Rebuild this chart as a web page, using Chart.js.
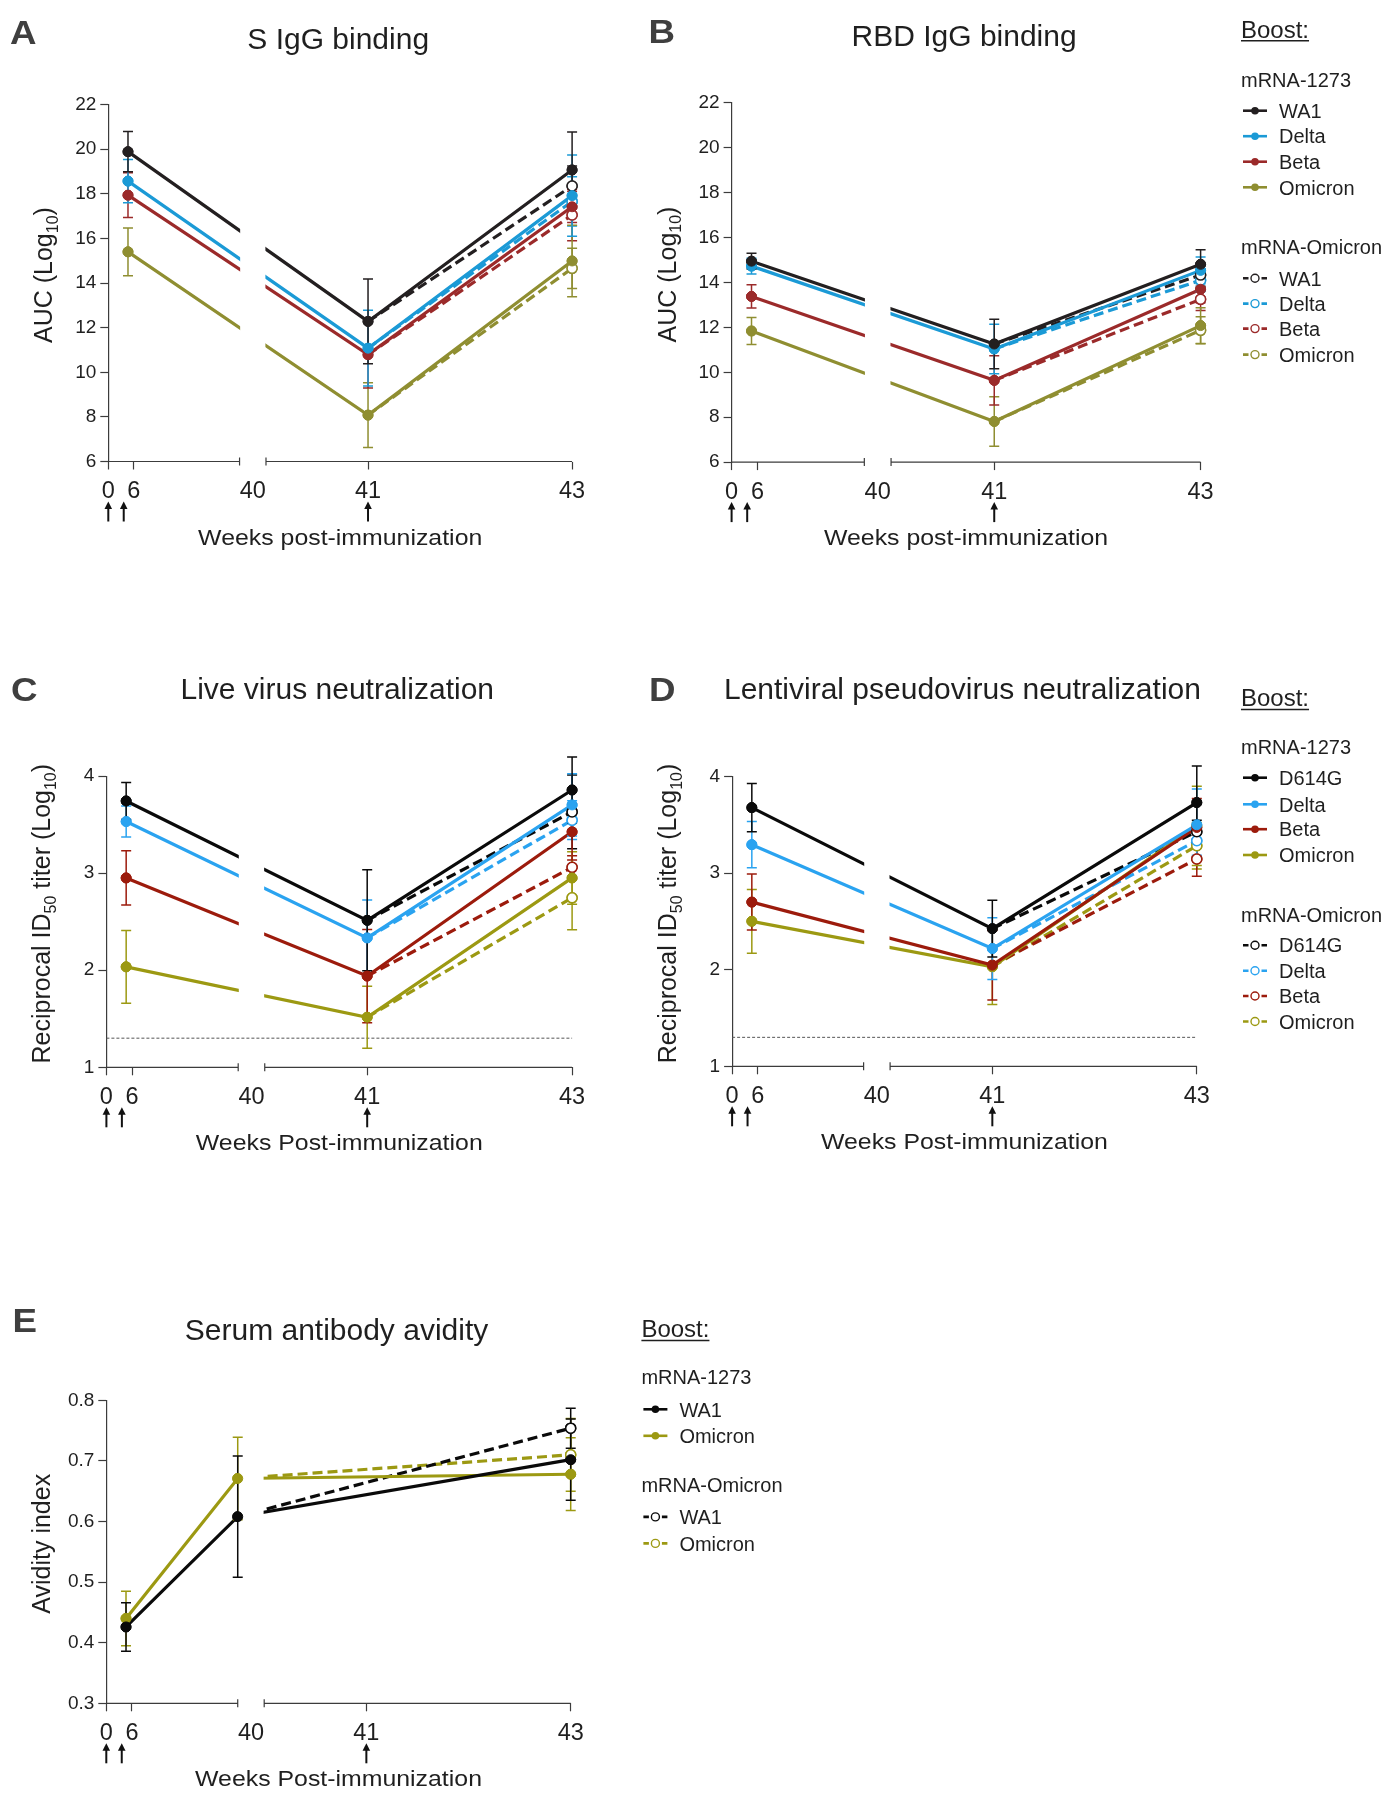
<!DOCTYPE html>
<html lang="en">
<head>
<meta charset="utf-8">
<title>mRNA-Omicron boost</title>
<script src="https://cdn.jsdelivr.net/npm/chart.js@4.4.1/dist/chart.umd.min.js"></script>
<style>
  html, body { margin: 0; background: #ffffff; }
  #figure { position: relative; width: 1388px; height: 1796px; overflow: hidden; }
  #figure canvas { position: absolute; }
</style>
</head>
<body>
<div id="figure">
  <canvas id="panelA"></canvas>
  <canvas id="panelB"></canvas>
  <canvas id="panelC"></canvas>
  <canvas id="panelD"></canvas>
  <canvas id="panelE"></canvas>
</div>
<script>
// === Data ===
const WEEKS_AD = [6, 41, 43];
const WEEKS_E = [6, 40, 43];
const X_TICK_LABELS = ['0', '6', '40', '41', '43'];
// where the figure puts each tick label, in weeks (the "6" sits a little right of the week-6 points)
const X_TICK_AT = [0, 7.8, 40, 41, 43];
const ARROW_WEEKS = [0, 4.7, 41];

const VARIANTS = ['WA1', 'Delta', 'Beta', 'Omicron'];
const VARIANTS_D = ['D614G', 'Delta', 'Beta', 'Omicron'];
const VARIANTS_E = ['WA1', 'Omicron'];

// A. S IgG binding, AUC (log10); one row per variant, one column per week in WEEKS_AD
const sIgG1273 = [[19.89, 12.28, 19.07], [18.57, 11.08, 17.92], [17.94, 10.79, 17.42], [15.40, 8.08, 14.99]];
const sIgG1273Err = [[0.9, 1.9, 1.7], [0.97, 1.7, 1.82], [1.0, 1.5, 0.7], [1.07, 1.45, 1.6]];
const sIgGOmicron43 = [18.35, 17.66, 17.05, 14.66];
const sIgGOmicron43Err = [0.9, 1.1, 1.15, 0.9];

// B. RBD IgG binding, AUC (log10)
const rbdIgG1273 = [[14.95, 11.26, 14.81], [14.73, 11.04, 14.54], [13.38, 9.64, 13.70], [11.84, 7.81, 12.08]];
const rbdIgG1273Err = [[0.35, 1.1, 0.65], [0.35, 1.1, 0.6], [0.52, 1.1, 0.6], [0.6, 1.1, 0.8]];
const rbdIgGOmicron43 = [14.33, 14.10, 13.25, 11.87];
const rbdIgGOmicron43Err = [0.5, 0.5, 0.5, 0.6];

// C. Live virus neutralization, reciprocal ID50 titer (log10)
const liveNeut1273 = [[3.744, 2.514, 3.857], [3.532, 2.333, 3.703], [2.951, 1.94, 3.426], [2.035, 1.516, 2.951]];
const liveNeut1273Err = [[0.19, 0.52, 0.34], [0.16, 0.39, 0.32], [0.28, 0.48, 0.29], [0.375, 0.32, 0.27]];
const liveNeutOmicron43 = [3.631, 3.546, 3.06, 2.746];
const liveNeutOmicron43Err = [0.38, 0.2, 0.12, 0.33];

// D. Lentiviral pseudovirus neutralization, reciprocal ID50 titer (log10)
const pseudoNeut1273 = [[3.68, 2.426, 3.732], [3.296, 2.22, 3.502], [2.701, 2.048, 3.474], [2.502, 2.031, 3.49]];
const pseudoNeut1273Err = [[0.25, 0.295, 0.38], [0.24, 0.32, 0.37], [0.29, 0.36, 0.3], [0.33, 0.39, 0.41]];
const pseudoNeutOmicron43 = [3.43, 3.337, 3.148, 3.285];
const pseudoNeutOmicron43Err = [0.12, 0.15, 0.18, 0.24];

// E. Serum antibody avidity index; weeks in WEEKS_E
const avidity1273 = [[0.426, 0.608, 0.702], [0.44, 0.671, 0.678]];
const avidity1273Err = [[0.04, 0.1, 0.067], [0.045, 0.068, 0.06]];
const avidityOmicron43 = [0.754, 0.71];
const avidityOmicron43Err = [0.033, 0.06];

const NEUT_LIMIT = 1.3; // limit of detection, dotted line in C and D

// === Look ===
const FONT = "'Liberation Sans', Arial, Helvetica, sans-serif";
const AXIS_COLOR = '#3c3c3c';
const TEXT_COLOR = '#1f1f1f';
const PALETTE_AB = ['#231f20', '#1b9ad6', '#9b2a2a', '#8f8e31'];
const PALETTE_CDE = ['#0a0a0a', '#2aa3f0', '#9c1b0c', '#9c9912'];
const CAP = 5;
const LINE_W = 3.2;
const DOT_R = 5;
const Y_AXIS_W = 70;
const X_AXIS_H = 40;

// Broken x axis: weeks 0-40 on the first 28.3 % of the axis, weeks 40-43 on the last 66 %
const SEG1_END = 28.3;
const SEG2_START = 34.0;
const GAP_MID = (SEG1_END + SEG2_START) / 2;

function weekToX(w) {
  return w <= 40 ? (w / 40) * SEG1_END : SEG2_START + ((w - 40) / 3) * (100 - SEG2_START);
}

function seriesSets(weeks, mean, err, mean43, err43, colors) {
  const solid = mean.map((row, i) => ({
    data: weeks.map((w, j) => ({ x: weekToX(w), y: row[j] })),
    errors: err[i],
    borderColor: colors[i],
    backgroundColor: colors[i],
    borderWidth: LINE_W,
    pointRadius: DOT_R,
    pointBackgroundColor: colors[i],
    pointBorderColor: colors[i],
    pointBorderWidth: 1,
    clip: false,
  }));
  const dashed = mean43.map((v, i) => ({
    data: [{ x: weekToX(weeks[1]), y: mean[i][1] }, { x: weekToX(weeks[2]), y: v }],
    errors: [null, err43[i]],
    borderColor: colors[i],
    backgroundColor: colors[i],
    borderWidth: LINE_W,
    borderDash: [10, 5],
    pointRadius: [0, DOT_R],
    pointBackgroundColor: '#ffffff',
    pointBorderColor: colors[i],
    pointBorderWidth: 1.5,
    clip: false,
  }));
  return solid.concat(dashed);
}

const AUC_TITLE = [['AUC (Log'], ['10', true], [')']];
const ID50_TITLE = [['Reciprocal ID'], ['50', true], [' titer (Log'], ['10', true], [')']];

// positions are page coordinates: box = canvas [left, top, width, height], area = [left, right, top, bottom]
const PANELS = [
  {
    id: 'panelA', box: [0, 0, 640, 600], area: [108.3, 572.1, 104.6, 461.5],
    letter: ['A', 10, 43.5], title: ['S IgG binding', 49],
    yTitle: AUC_TITLE, xTitle: 'Weeks post-immunization',
    y: { min: 6, max: 22, step: 2 },
    datasets: seriesSets(WEEKS_AD, sIgG1273, sIgG1273Err, sIgGOmicron43, sIgGOmicron43Err, PALETTE_AB),
  },
  {
    id: 'panelB', box: [640, 0, 748, 600], area: [731.6, 1200.6, 102.9, 462.1],
    letter: ['B', 648.5, 43], title: ['RBD IgG binding', 45.5],
    yTitle: AUC_TITLE, xTitle: 'Weeks post-immunization',
    y: { min: 6, max: 22, step: 2 },
    datasets: seriesSets(WEEKS_AD, rbdIgG1273, rbdIgG1273Err, rbdIgGOmicron43, rbdIgGOmicron43Err, PALETTE_AB),
    legend: {
      x: 1241, boostY: 37.5, head1Y: 86.5, head2Y: 254,
      items1: [110.7, 136.2, 161.7, 187.3], items2: [278.3, 303.6, 328.6, 354.6],
      names: VARIANTS, colors: PALETTE_AB,
    },
  },
  {
    id: 'panelC', box: [0, 640, 640, 560], area: [106.4, 572.1, 776.1, 1067.3],
    letter: ['C', 11, 700.5], title: ['Live virus neutralization', 699],
    yTitle: ID50_TITLE, xTitle: 'Weeks Post-immunization',
    y: { min: 1, max: 4, step: 1 }, limit: NEUT_LIMIT,
    datasets: seriesSets(WEEKS_AD, liveNeut1273, liveNeut1273Err, liveNeutOmicron43, liveNeutOmicron43Err, PALETTE_CDE),
  },
  {
    id: 'panelD', box: [640, 640, 748, 560], area: [732.1, 1196.8, 776.7, 1066.3],
    letter: ['D', 649, 701], title: ['Lentiviral pseudovirus neutralization', 699],
    yTitle: ID50_TITLE, xTitle: 'Weeks Post-immunization',
    y: { min: 1, max: 4, step: 1 }, limit: NEUT_LIMIT,
    datasets: seriesSets(WEEKS_AD, pseudoNeut1273, pseudoNeut1273Err, pseudoNeutOmicron43, pseudoNeutOmicron43Err, PALETTE_CDE),
    legend: {
      x: 1241, boostY: 706.4, head1Y: 754, head2Y: 921.5,
      items1: [777.7, 804.3, 829.2, 855], items2: [945.2, 970.8, 996, 1021.5],
      names: VARIANTS_D, colors: PALETTE_CDE,
    },
  },
  {
    id: 'panelE', box: [0, 1290, 820, 506], area: [106.3, 570.7, 1400.3, 1703.3],
    letter: ['E', 12.5, 1332], title: ['Serum antibody avidity', 1340],
    yTitle: [['Avidity index']], xTitle: 'Weeks Post-immunization',
    y: { min: 0.3, max: 0.8, step: 0.1, decimals: 1 },
    datasets: seriesSets(WEEKS_E, avidity1273, avidity1273Err, avidityOmicron43, avidityOmicron43Err,
      [PALETTE_CDE[0], PALETTE_CDE[3]]),
    legend: {
      x: 641.4, boostY: 1337.4, head1Y: 1384, head2Y: 1491.5,
      items1: [1409.3, 1435.8], items2: [1516.9, 1543.4],
      names: VARIANTS_E, colors: [PALETTE_CDE[0], PALETTE_CDE[3]],
    },
  },
];

const PANEL_BY_CANVAS = {};
PANELS.forEach(p => { PANEL_BY_CANVAS[p.id] = p; });

// === Drawing helpers ===
function drawText(ctx, str, x, y, size, align = 'left', stretch = 1, weight = 'normal', color = TEXT_COLOR) {
  ctx.save();
  ctx.font = `${weight} ${size}px ${FONT}`;
  ctx.fillStyle = color;
  ctx.textAlign = 'left';
  ctx.textBaseline = 'alphabetic';
  const w = ctx.measureText(str).width * stretch;
  const x0 = align === 'center' ? x - w / 2 : align === 'right' ? x - w : x;
  ctx.translate(x0, y);
  ctx.scale(stretch, 1);
  ctx.fillText(str, 0, 0);
  ctx.restore();
  return w;
}

function drawRotatedTitle(ctx, parts, baseX, centerY, size) {
  const subSize = size * 0.64;
  ctx.save();
  ctx.fillStyle = TEXT_COLOR;
  ctx.textBaseline = 'alphabetic';
  let total = 0;
  parts.forEach(([t, sub]) => {
    ctx.font = `${sub ? subSize : size}px ${FONT}`;
    total += ctx.measureText(t).width;
  });
  ctx.translate(baseX, centerY);
  ctx.rotate(-Math.PI / 2);
  let x = -total / 2;
  parts.forEach(([t, sub]) => {
    ctx.font = `${sub ? subSize : size}px ${FONT}`;
    ctx.fillText(t, x, sub ? size * 0.22 : 0);
    x += ctx.measureText(t).width;
  });
  ctx.restore();
}

function drawLegend(ctx, lg, ox, oy) {
  const x = lg.x - ox;
  const w = drawText(ctx, 'Boost:', x, lg.boostY - oy, 24);
  ctx.save();
  ctx.strokeStyle = TEXT_COLOR;
  ctx.lineWidth = 1.5;
  ctx.beginPath();
  ctx.moveTo(x, lg.boostY - oy + 3.2);
  ctx.lineTo(x + w, lg.boostY - oy + 3.2);
  ctx.stroke();
  ctx.restore();

  drawText(ctx, 'mRNA-1273', x, lg.head1Y - oy, 20);
  drawText(ctx, 'mRNA-Omicron', x, lg.head2Y - oy, 20);

  lg.names.forEach((name, i) => {
    const c = lg.colors[i];
    let y = lg.items1[i] - oy;
    ctx.save();
    ctx.strokeStyle = c;
    ctx.fillStyle = c;
    ctx.lineWidth = 2.6;
    ctx.beginPath();
    ctx.moveTo(x + 2, y);
    ctx.lineTo(x + 26, y);
    ctx.stroke();
    ctx.beginPath();
    ctx.arc(x + 14, y, 3.8, 0, Math.PI * 2);
    ctx.fill();
    ctx.restore();
    drawText(ctx, name, x + 38, y + 7.2, 20);

    y = lg.items2[i] - oy;
    ctx.save();
    ctx.strokeStyle = c;
    ctx.lineWidth = 2.6;
    ctx.beginPath();
    ctx.moveTo(x + 2, y);
    ctx.lineTo(x + 7.5, y);
    ctx.moveTo(x + 20.5, y);
    ctx.lineTo(x + 26, y);
    ctx.stroke();
    ctx.lineWidth = 1.4;
    ctx.fillStyle = '#ffffff';
    ctx.beginPath();
    ctx.arc(x + 14, y, 4, 0, Math.PI * 2);
    ctx.fill();
    ctx.stroke();
    ctx.restore();
    drawText(ctx, name, x + 38, y + 7.2, 20);
  });
}

const figurePlugin = {
  id: 'figure',
  afterDraw(chart) {
    const p = PANEL_BY_CANVAS[chart.canvas.id];
    const ctx = chart.ctx;
    const area = chart.chartArea;
    const xs = chart.scales.x;
    const ys = chart.scales.y;
    const ox = p.box[0];
    const oy = p.box[1];
    const gx1 = xs.getPixelForValue(SEG1_END);
    const gx2 = xs.getPixelForValue(SEG2_START);
    const axisY = area.bottom;
    const n = chart.data.datasets.length;

    // blank the break of the x axis
    ctx.save();
    ctx.fillStyle = '#ffffff';
    ctx.fillRect(gx1 + 0.6, area.top - 5, gx2 - gx1 - 1.2, axisY - area.top + 6);
    ctx.restore();

    // the two pieces of the x axis
    ctx.save();
    ctx.strokeStyle = AXIS_COLOR;
    ctx.lineWidth = 1.2;
    ctx.beginPath();
    ctx.moveTo(area.left, axisY);
    ctx.lineTo(gx1, axisY);
    ctx.moveTo(gx2, axisY);
    ctx.lineTo(area.right, axisY);
    ctx.moveTo(gx1, axisY - 4);
    ctx.lineTo(gx1, axisY + 4);
    ctx.moveTo(gx2, axisY - 4);
    ctx.lineTo(gx2, axisY + 4);
    ctx.stroke();
    ctx.restore();

    if (p.limit != null) {
      const ly = ys.getPixelForValue(p.limit);
      ctx.save();
      ctx.strokeStyle = '#555555';
      ctx.lineWidth = 1;
      ctx.setLineDash([3, 2]);
      ctx.beginPath();
      ctx.moveTo(area.left, ly);
      ctx.lineTo(area.right, ly);
      ctx.stroke();
      ctx.restore();
    }

    // error bars
    for (let i = n - 1; i >= 0; i--) {
      const ds = chart.data.datasets[i];
      const meta = chart.getDatasetMeta(i);
      ctx.save();
      ctx.strokeStyle = ds.borderColor;
      ctx.lineWidth = 1.5;
      ds.errors.forEach((e, j) => {
        if (e == null) return;
        const el = meta.data[j];
        const v = ds.data[j].y;
        const yt = ys.getPixelForValue(v + e);
        const yb = ys.getPixelForValue(v - e);
        ctx.beginPath();
        ctx.moveTo(el.x, yt);
        ctx.lineTo(el.x, yb);
        ctx.moveTo(el.x - CAP, yt);
        ctx.lineTo(el.x + CAP, yt);
        ctx.moveTo(el.x - CAP, yb);
        ctx.lineTo(el.x + CAP, yb);
        ctx.stroke();
      });
      ctx.restore();
    }

    // markers back on top of the bars and the break
    const whole = { left: 0, top: 0, right: chart.width, bottom: chart.height };
    for (let i = n - 1; i >= 0; i--) {
      chart.getDatasetMeta(i).data.forEach(el => el.draw(ctx, whole));
    }

    // immunization arrows
    ctx.save();
    ctx.fillStyle = '#111111';
    ctx.strokeStyle = '#111111';
    ctx.lineWidth = 2;
    ARROW_WEEKS.forEach(w => {
      const x = xs.getPixelForValue(weekToX(w));
      const top = axisY + 40;
      ctx.beginPath();
      ctx.moveTo(x, top + 5);
      ctx.lineTo(x, axisY + 60);
      ctx.stroke();
      ctx.beginPath();
      ctx.moveTo(x, top);
      ctx.lineTo(x - 3.8, top + 7.5);
      ctx.lineTo(x + 3.8, top + 7.5);
      ctx.closePath();
      ctx.fill();
    });
    ctx.restore();

    const cx = (area.left + area.right) / 2;
    drawText(ctx, p.letter[0], p.letter[1] - ox, p.letter[2] - oy, 34, 'left', 1.08, 'bold', '#3f3f3f');
    drawText(ctx, p.title[0], cx - 2, p.title[1] - oy, 30, 'center');
    drawText(ctx, p.xTitle, cx, axisY + 83, 22, 'center', 1.13);
    drawRotatedTitle(ctx, p.yTitle, area.left - 56, (area.top + area.bottom) / 2 - 8, 25);

    if (p.legend) drawLegend(ctx, p.legend, ox, oy);
  },
};

function makeChart(p) {
  const canvas = document.getElementById(p.id);
  const [bx, by, bw, bh] = p.box;
  const [l, r, t, b] = p.area;
  canvas.width = bw;
  canvas.height = bh;
  canvas.style.left = bx + 'px';
  canvas.style.top = by + 'px';

  return new Chart(canvas, {
    type: 'line',
    data: { datasets: p.datasets },
    plugins: [figurePlugin],
    options: {
      responsive: false,
      animation: false,
      devicePixelRatio: 1,
      events: [],
      elements: { line: { tension: 0 } },
      layout: {
        padding: { left: l - bx - Y_AXIS_W, right: bx + bw - r, top: t - by, bottom: by + bh - b - X_AXIS_H },
      },
      plugins: { legend: { display: false }, tooltip: { enabled: false }, title: { display: false } },
      scales: {
        x: {
          type: 'linear',
          min: 0,
          max: 100,
          afterBuildTicks: scale => {
            scale.ticks = X_TICK_AT.map(w => ({ value: w === 40 ? GAP_MID : weekToX(w) }));
          },
          afterFit: scale => {
            scale.height = X_AXIS_H;
            scale.paddingLeft = 0;
            scale.paddingRight = 0;
          },
          ticks: {
            autoSkip: false,
            maxRotation: 0,
            minRotation: 0,
            padding: 8,
            color: TEXT_COLOR,
            font: { family: FONT, size: 23.5 },
            callback: (v, i) => X_TICK_LABELS[i],
          },
          grid: {
            drawOnChartArea: false,
            tickLength: 8,
            tickWidth: 1.2,
            tickColor: c => (c.tick && Math.abs(c.tick.value - GAP_MID) < 0.01 ? 'rgba(0,0,0,0)' : AXIS_COLOR),
          },
          border: { display: false },
        },
        y: {
          min: p.y.min,
          max: p.y.max,
          afterFit: scale => {
            scale.width = Y_AXIS_W;
            scale.paddingTop = 0;
            scale.paddingBottom = 0;
          },
          ticks: {
            stepSize: p.y.step,
            padding: 4,
            color: TEXT_COLOR,
            font: { family: FONT, size: 19 },
            callback: v => (p.y.decimals ? v.toFixed(p.y.decimals) : String(Math.round(v))),
          },
          grid: { drawOnChartArea: false, tickLength: 8, tickWidth: 1.2, tickColor: AXIS_COLOR },
          border: { color: AXIS_COLOR, width: 1.2 },
        },
      },
    },
  });
}

PANELS.forEach(makeChart);
</script>
</body>
</html>
